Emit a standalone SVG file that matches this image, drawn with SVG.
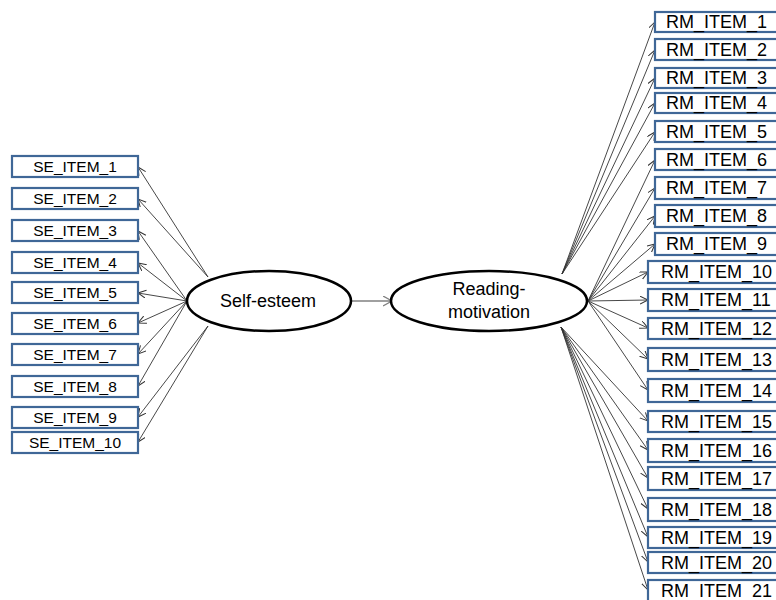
<svg xmlns="http://www.w3.org/2000/svg" width="776" height="600" viewBox="0 0 776 600">
<style>
.box{fill:#fff;stroke:#3F6797;stroke-width:2.2}
.se{font-family:"Liberation Sans",Arial,sans-serif;font-size:15.5px;fill:#000;text-anchor:middle}
.rm{font-family:"Liberation Sans",Arial,sans-serif;font-size:18px;fill:#000}
.lat{fill:#fff;stroke:#000;stroke-width:2.5}
.latt{font-family:"Liberation Sans",Arial,sans-serif;font-size:18px;fill:#000;text-anchor:middle}
.c{stroke:#333;stroke-width:0.9;fill:none;marker-end:url(#ah)}
.c2{stroke:#808080;stroke-width:1.3;fill:none;marker-end:url(#ah2)}
</style>
<defs>
<marker id="ah" markerUnits="userSpaceOnUse" markerWidth="10" markerHeight="10" refX="8" refY="4" orient="auto" viewBox="0 0 10 10">
<path d="M0,0 L8,4 L0,8" fill="none" stroke="#333" stroke-width="1"/>
</marker>
<marker id="ah2" markerUnits="userSpaceOnUse" markerWidth="12" markerHeight="12" refX="9" refY="5" orient="auto" viewBox="0 0 12 12">
<path d="M0,0 L9,5 L0,10" fill="none" stroke="#808080" stroke-width="1.3"/>
</marker>
</defs>
<g id="connectors">
<line class="c" x1="208" y1="277" x2="138" y2="167"/>
<line class="c" x1="208" y1="277" x2="138" y2="199"/>
<line class="c" x1="187" y1="301" x2="138" y2="231"/>
<line class="c" x1="187" y1="301" x2="138" y2="263"/>
<line class="c" x1="187" y1="301" x2="138" y2="293"/>
<line class="c" x1="187" y1="301" x2="138" y2="323"/>
<line class="c" x1="187" y1="301" x2="138" y2="354"/>
<line class="c" x1="187" y1="301" x2="138" y2="386"/>
<line class="c" x1="208" y1="326" x2="138" y2="417"/>
<line class="c" x1="208" y1="326" x2="138" y2="442"/>
<line class="c2" x1="352" y1="301" x2="392" y2="301"/>
<line class="c" x1="562" y1="274" x2="655" y2="22"/>
<line class="c" x1="562" y1="274" x2="655" y2="50"/>
<line class="c" x1="562" y1="274" x2="655" y2="78"/>
<line class="c" x1="562" y1="274" x2="655" y2="103"/>
<line class="c" x1="562" y1="274" x2="655" y2="132"/>
<line class="c" x1="588" y1="301" x2="655" y2="160"/>
<line class="c" x1="588" y1="301" x2="655" y2="188"/>
<line class="c" x1="588" y1="301" x2="655" y2="216"/>
<line class="c" x1="588" y1="301" x2="655" y2="244"/>
<line class="c" x1="588" y1="301" x2="648" y2="272"/>
<line class="c" x1="588" y1="301" x2="648" y2="300"/>
<line class="c" x1="588" y1="301" x2="648" y2="328"/>
<line class="c" x1="588" y1="301" x2="648" y2="359"/>
<line class="c" x1="588" y1="301" x2="648" y2="390"/>
<line class="c" x1="561" y1="327" x2="648" y2="421"/>
<line class="c" x1="561" y1="327" x2="648" y2="450"/>
<line class="c" x1="561" y1="327" x2="648" y2="478"/>
<line class="c" x1="561" y1="327" x2="648" y2="509"/>
<line class="c" x1="561" y1="327" x2="648" y2="537"/>
<line class="c" x1="561" y1="327" x2="648" y2="562"/>
<line class="c" x1="561" y1="327" x2="648" y2="590"/>
</g>
<g id="self-esteem"><ellipse class="lat" cx="269" cy="301" rx="82" ry="30"/><text class="latt" x="268" y="307">Self-esteem</text></g>
<g id="reading-motivation"><ellipse class="lat" cx="489" cy="301" rx="98" ry="30"/><text class="latt" x="489" y="295">Reading-</text><text class="latt" x="489" y="318">motivation</text></g>
<g id="se1"><rect class="box" x="12" y="156" width="126" height="21"/><text class="se" x="75" y="172">SE_ITEM_1</text></g>
<g id="se2"><rect class="box" x="12" y="188" width="126" height="21"/><text class="se" x="75" y="204">SE_ITEM_2</text></g>
<g id="se3"><rect class="box" x="12" y="220" width="126" height="21"/><text class="se" x="75" y="236">SE_ITEM_3</text></g>
<g id="se4"><rect class="box" x="12" y="252" width="126" height="21"/><text class="se" x="75" y="268">SE_ITEM_4</text></g>
<g id="se5"><rect class="box" x="12" y="282" width="126" height="21"/><text class="se" x="75" y="298">SE_ITEM_5</text></g>
<g id="se6"><rect class="box" x="12" y="313" width="126" height="21"/><text class="se" x="75" y="329">SE_ITEM_6</text></g>
<g id="se7"><rect class="box" x="12" y="344" width="126" height="21"/><text class="se" x="75" y="360">SE_ITEM_7</text></g>
<g id="se8"><rect class="box" x="12" y="376" width="126" height="21"/><text class="se" x="75" y="392">SE_ITEM_8</text></g>
<g id="se9"><rect class="box" x="12" y="407" width="126" height="21"/><text class="se" x="75" y="423">SE_ITEM_9</text></g>
<g id="se10"><rect class="box" x="12" y="432" width="126" height="21"/><text class="se" x="75" y="448">SE_ITEM_10</text></g>
<g id="rm1"><rect class="box" x="655" y="12" width="140" height="20"/><text class="rm" x="666" y="28">RM_ITEM_1</text></g>
<g id="rm2"><rect class="box" x="655" y="39" width="140" height="21"/><text class="rm" x="666" y="56">RM_ITEM_2</text></g>
<g id="rm3"><rect class="box" x="655" y="68" width="140" height="20"/><text class="rm" x="666" y="84">RM_ITEM_3</text></g>
<g id="rm4"><rect class="box" x="655" y="93" width="140" height="20"/><text class="rm" x="666" y="109">RM_ITEM_4</text></g>
<g id="rm5"><rect class="box" x="655" y="121" width="140" height="21"/><text class="rm" x="666" y="138">RM_ITEM_5</text></g>
<g id="rm6"><rect class="box" x="655" y="149" width="140" height="21"/><text class="rm" x="666" y="166">RM_ITEM_6</text></g>
<g id="rm7"><rect class="box" x="655" y="177" width="140" height="22"/><text class="rm" x="666" y="194">RM_ITEM_7</text></g>
<g id="rm8"><rect class="box" x="655" y="205" width="140" height="22"/><text class="rm" x="666" y="222">RM_ITEM_8</text></g>
<g id="rm9"><rect class="box" x="655" y="233" width="140" height="22"/><text class="rm" x="666" y="250">RM_ITEM_9</text></g>
<g id="rm10"><rect class="box" x="648" y="261" width="140" height="22"/><text class="rm" x="661" y="278">RM_ITEM_10</text></g>
<g id="rm11"><rect class="box" x="648" y="289" width="140" height="22"/><text class="rm" x="661" y="306">RM_ITEM_11</text></g>
<g id="rm12"><rect class="box" x="648" y="318" width="140" height="21"/><text class="rm" x="661" y="335">RM_ITEM_12</text></g>
<g id="rm13"><rect class="box" x="648" y="348" width="140" height="23"/><text class="rm" x="661" y="366">RM_ITEM_13</text></g>
<g id="rm14"><rect class="box" x="648" y="379" width="140" height="23"/><text class="rm" x="661" y="397">RM_ITEM_14</text></g>
<g id="rm15"><rect class="box" x="648" y="411" width="140" height="21"/><text class="rm" x="661" y="428">RM_ITEM_15</text></g>
<g id="rm16"><rect class="box" x="648" y="439" width="140" height="23"/><text class="rm" x="661" y="457">RM_ITEM_16</text></g>
<g id="rm17"><rect class="box" x="648" y="467" width="140" height="23"/><text class="rm" x="661" y="485">RM_ITEM_17</text></g>
<g id="rm18"><rect class="box" x="648" y="498" width="140" height="23"/><text class="rm" x="661" y="516">RM_ITEM_18</text></g>
<g id="rm19"><rect class="box" x="648" y="527" width="140" height="21"/><text class="rm" x="661" y="544">RM_ITEM_19</text></g>
<g id="rm20"><rect class="box" x="648" y="552" width="140" height="21"/><text class="rm" x="661" y="569">RM_ITEM_20</text></g>
<g id="rm21"><rect class="box" x="648" y="580" width="140" height="22"/><text class="rm" x="661" y="597">RM_ITEM_21</text></g>
</svg>
